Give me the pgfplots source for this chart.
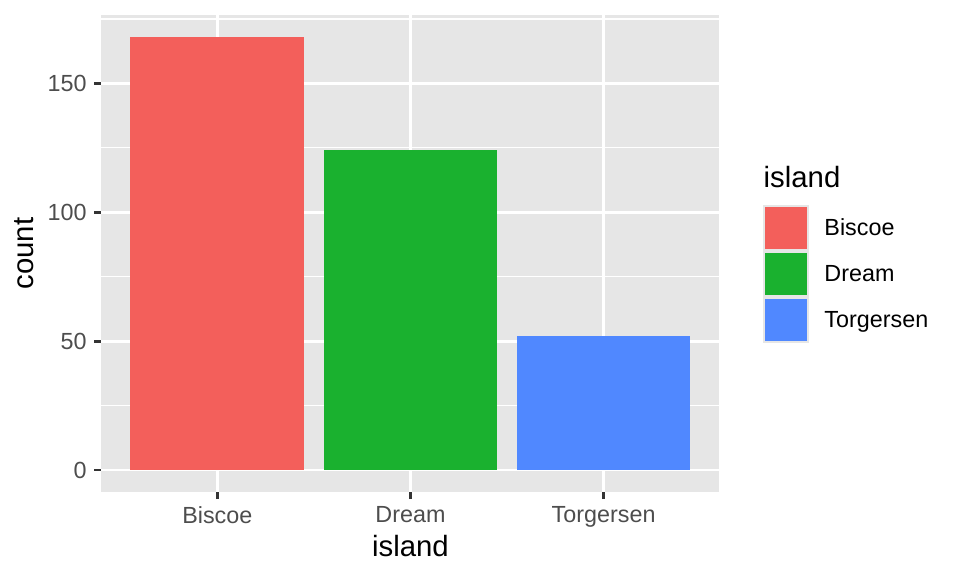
\documentclass[border=0pt]{standalone}
\usepackage{fontspec}
\setmainfont{Liberation Sans}
\usepackage{pgfplots}
\pgfplotsset{compat=1.18}

\definecolor{panel}{HTML}{E6E6E6}
\definecolor{tickcol}{HTML}{333333}
\definecolor{labcol}{HTML}{4D4D4D}
\definecolor{cBiscoe}{HTML}{F35F5B}
\definecolor{cDream}{HTML}{1AB12F}
\definecolor{cTorg}{HTML}{5088FF}

\pgfplotsset{
  keybox/.style={
    legend image code/.code={
      \fill[panel] (0pt,-17.25pt) rectangle (34.5pt,17.25pt);
      \fill[draw=none] (1.5pt,-15.75pt) rectangle (33pt,15.75pt);
    }
  }
}

\begin{document}
\begin{tikzpicture}
\useasboundingbox (-76.1pt,-63.2pt) rectangle (643.9pt,368.8pt);
\begin{axis}[
  scale only axis,
  width=463.5pt, height=357.4pt,
  xmin=0.4, xmax=3.6, ymin=-8.4, ymax=176.4,
  clip=false,
  axis background/.style={fill=panel},
  axis line style={draw=none},
  xtick={1,2,3}, xticklabels={Biscoe,Dream,Torgersen},
  ytick={0,50,100,150}, minor ytick={25,75,125,175},
  grid=both,
  major grid style={white, line width=2.13pt},
  minor grid style={white, line width=1.07pt},
  tick align=outside, xtick pos=bottom, ytick pos=left,
  major tick length=5.5pt, minor tick length=0pt,
  tick style={tickcol, line width=2.13pt},
  /pgf/number format/assume math mode=true,
  ticklabel style={font=\fontsize{17.5}{21}\selectfont, text=labcol, inner sep=0pt},
  xticklabel style={anchor=north, yshift=-5.4pt},
  yticklabel style={anchor=east, xshift=-5.4pt},
  xlabel={island}, ylabel={count},
  label style={font=\fontsize{22}{26}\selectfont, inner sep=0pt},
  xlabel style={at={(axis description cs:0.5,-0.1349)}, anchor=base},
  ylabel style={at={(axis description cs:-0.1104,0.5)}, anchor=base},
  legend cell align=left,
  legend style={at={(axis description cs:1.0712,0.6008)}, anchor=north west,
    draw=none, fill=none, inner sep=0pt, outer sep=0pt,
    row sep=0pt, column sep=11.25pt,
    nodes={inner sep=0pt, font=\fontsize{17.5}{21}\selectfont, text=black}},
]
\addplot[ybar, bar width=0.9, bar shift=0pt, fill=cBiscoe, draw=none, keybox] coordinates {(1,168)};
\addlegendentry{Biscoe}
\addplot[ybar, bar width=0.9, bar shift=0pt, fill=cDream, draw=none, keybox] coordinates {(2,124)};
\addlegendentry{Dream}
\addplot[ybar, bar width=0.9, bar shift=0pt, fill=cTorg, draw=none, keybox] coordinates {(3,52)};
\addlegendentry{Torgersen}
\node[anchor=base west, inner sep=0pt, font=\fontsize{22}{26}\selectfont]
  at (axis description cs:1.0712,0.6386) {island};
\end{axis}
\end{tikzpicture}
\end{document}
